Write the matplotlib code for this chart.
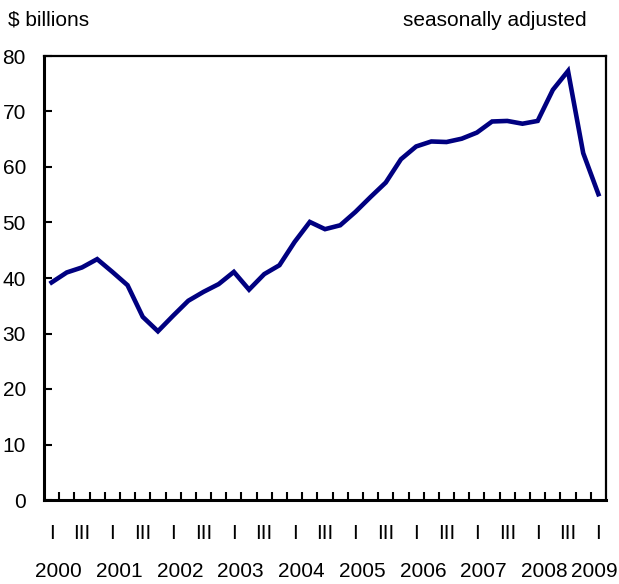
import matplotlib
matplotlib.use("Agg")
import matplotlib.pyplot as plt
import numpy as np

plt.rcParams['font.family'] = ['Liberation Sans', 'DejaVu Sans']

# quarterly values, 2000 Q1 to 2009 Q1
years = ["2000", "2001", "2002", "2003", "2004", "2005", "2006", "2007", "2008", "2009"]
values = [39.2, 41.0, 41.9, 43.4,
          41.1, 38.7, 33.0, 30.4,
          33.2, 35.9, 37.5, 38.9,
          41.1, 37.9, 40.7, 42.3,
          46.5, 50.1, 48.8, 49.5,
          51.9, 54.6, 57.2, 61.4,
          63.7, 64.6, 64.5, 65.1,
          66.2, 68.2, 68.3, 67.8,
          68.3, 73.9, 77.3, 62.5,
          55.1]
quarter_names = ["I", "", "III", ""]

navy = "#000080"
fs = 15

fig = plt.figure(figsize=(6.19, 5.84), dpi=100)
ax = fig.add_axes([44 / 619, 84 / 584, 562 / 619, 444 / 584])

x = np.arange(len(values))
ax.plot(x, values, color=navy, linewidth=3.3, solid_joinstyle='miter')

ax.set_xlim(-0.5, len(values) - 0.5)
ax.set_ylim(0, 80)
ax.set_yticks(range(0, 81, 10))
ax.set_xticks(np.arange(0.5, len(values) - 1, 1.0))
ax.set_xticklabels([])
ax.tick_params(axis='y', direction='in', length=6, width=1.5, labelsize=fs, pad=13)
ax.tick_params(axis='x', direction='in', length=6, width=1.5)

for side in ['left', 'bottom']:
    ax.spines[side].set_linewidth(2.2)
for side in ['top', 'right']:
    ax.spines[side].set_linewidth(1.6)

trans = ax.get_xaxis_transform()
for i in range(len(values)):
    q = quarter_names[i % 4]
    if q:
        ax.text(i, -0.075, q, transform=trans, ha='center', va='center', fontsize=fs)

for k, yr in enumerate(years):
    xp = 4 * k + 0.45
    if k == len(years) - 1:
        xp = 4 * k - 0.25
    ax.text(xp, -0.162, yr, transform=trans, ha='center', va='center', fontsize=fs)

fig.text(8 / 619, 1 - 20 / 584, "$ billions", ha='left', va='center', fontsize=fs)
fig.text(587 / 619, 1 - 20 / 584, "seasonally adjusted", ha='right', va='center', fontsize=fs)

fig.savefig("out.png", dpi=100)
